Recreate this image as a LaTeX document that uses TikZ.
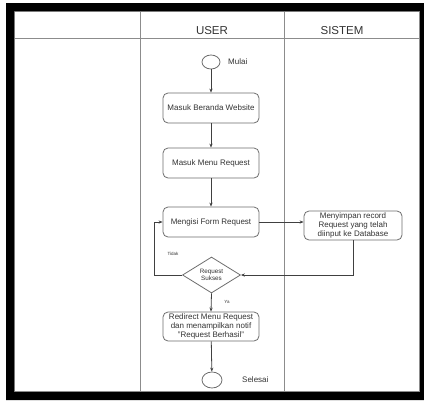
\documentclass[tikz,border=0pt]{standalone}
\usepackage{fontspec}
\setmainfont{Liberation Sans}
\usetikzlibrary{shapes.geometric,arrows.meta}
\definecolor{lanegray}{HTML}{8C8C8C}
\definecolor{boxgray}{HTML}{6E6E6E}
\definecolor{txt}{HTML}{333333}
\tikzset{
  actbox/.style={draw=boxgray, line width=0.8pt, rounded corners=5pt, minimum width=96pt, minimum height=30pt, inner sep=1pt, align=center, text=txt, font=\fontsize{8}{9}\selectfont},
  term/.style={draw=boxgray, line width=0.8pt, ellipse, inner sep=0pt},
  decbox/.style={draw=boxgray, line width=0.8pt, diamond, aspect=1.6, minimum width=58pt, minimum height=36pt, inner sep=0pt, align=center, text=txt, font=\fontsize{6.3}{7.5}\selectfont},
  flow/.style={draw=black!75, line width=0.8pt, -{Stealth[length=4pt,width=3.2pt]}},
  lbl/.style={text=txt, font=\fontsize{8}{9}\selectfont, inner sep=0pt},
  tiny/.style={text=txt, font=\fontsize{4.5}{5}\selectfont, inner sep=0pt},
  hdr/.style={text=txt, font=\fontsize{11.5}{12}\selectfont, inner sep=0pt},
  lane/.style={draw=lanegray, line width=0.8pt}
}
\begin{document}
\begin{tikzpicture}[x=1pt,y=-1pt]
\useasboundingbox (0,0) rectangle (424,400);
\fill[white] (0,0) rectangle (424,400);
% swimlanes
\draw[lane] (14,11) rectangle (419,391);
\draw[lane] (14,38) -- (419,38);
\draw[lane] (140.5,11) -- (140.5,391);
\draw[lane] (284,11) -- (284,391);
\node[hdr] (huser) at (212,31) {USER};
\node[hdr] (hsis) at (342,31) {SISTEM};
% nodes
\node[term, minimum width=18pt, minimum height=14pt] (start) at (211,62) {};
\node[lbl, anchor=west] (lstart) at (228,62) {Mulai};
\node[actbox] (b1) at (211,108) {Masuk Beranda Website};
\node[actbox] (b2) at (211,163) {Masuk Menu Request};
\node[actbox] (b3) at (211,222) {Mengisi Form Request};
\node[actbox, minimum width=98pt, minimum height=29pt] (sys) at (353,225.5) {Menyimpan record\\Request yang telah\\diinput ke Database};
\node[decbox] (dec) at (211.5,275) {Request\\Sukses};
\node[actbox, minimum height=29pt] (b4) at (211,326.5) {Redirect Menu Request\\dan menampilkan notif\\"Request Berhasil"};
\node[term, minimum width=20pt, minimum height=16pt] (end) at (212,380) {};
\node[lbl, anchor=west] (lend) at (242,379.5) {Selesai};
\node[tiny] (ltidak) at (173,254) {Tidak};
\node[tiny] (lya) at (227,302) {Ya};
\coordinate (loop) at (154,275);
% connectors
\draw[flow] (start) -- (b1);
\draw[flow] (b1) -- (b2);
\draw[flow] (b2) -- (b3);
\draw[flow] (b3.east) -- (b3.east -| sys.west);
\draw[flow] (sys.south) -- (sys.south |- dec.east) -- (dec.east);
\draw[flow] (dec.west) -- (loop) |- (b3.west);
\draw[flow] (dec.south) -- (b4.north);
\draw[flow] (b4) -- (end);
% black frame
\fill[black, even odd rule] (6,3) rectangle (424,400) (14,11) rectangle (420,392);
\end{tikzpicture}
\end{document}
